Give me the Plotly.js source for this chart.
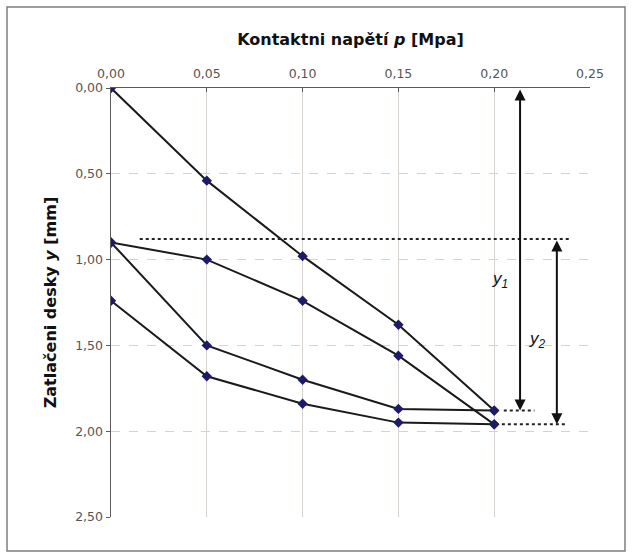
<!DOCTYPE html>
<html>
<head>
<meta charset="utf-8">
<script src="https://cdn.plot.ly/plotly-3.0.1.min.js"></script>
<style>
html,body{margin:0;padding:0;background:#fff;}
#chart{width:632px;height:558px;}
</style>
</head>
<body>
<div id="chart"></div>
<script>
// Contact stress p [MPa]
const pressure = [0.00, 0.05, 0.10, 0.15, 0.20];
// Plate settlement y [mm] for each branch of the load cycle
const loading1   = [0.00, 0.54, 0.98, 1.38, 1.88];
const unloading1 = [0.90, 1.50, 1.70, 1.87, 1.88];
const loading2   = [0.90, 1.00, 1.24, 1.56, 1.96];
const unloading2 = [1.24, 1.68, 1.84, 1.95, 1.96];
const xTicks = [0, 0.05, 0.10, 0.15, 0.20, 0.25];
const yTicks = [0, 0.5, 1.0, 1.5, 2.0, 2.5];

const markerStyle = {symbol: 'diamond', size: 8, color: '#1e1a6a'};
const lineStyle = {color: '#1a1a1a', width: 2};
const series = [loading1, unloading1, loading2, unloading2];
const traces = series.map(s => ({
  x: pressure, y: s, type: 'scatter', mode: 'lines+markers',
  line: lineStyle, marker: markerStyle, showlegend: false, hoverinfo: 'skip'
}));

const PW = 479, PH = 429, L = 111, T = 88;
const px = v => (v - L) / PW;
const py = v => (T + PH - v) / PH;

const tickFont = {family: 'DejaVu Sans, sans-serif', size: 12.5, color: '#555555'};
const titleFont = {family: 'DejaVu Sans, sans-serif', size: 16, color: '#111'};

const layout = {
  width: 632, height: 558,
  margin: {l: L, r: 632 - L - PW, t: T, b: 558 - T - PH},
  paper_bgcolor: '#ffffff', plot_bgcolor: '#ffffff',
  separators: ', ',
  font: {family: 'DejaVu Sans, sans-serif', color: '#444'},
  xaxis: {
    side: 'top', range: [0, 0.25], tickvals: xTicks, tickformat: '.2f',
    showline: true, linecolor: '#5a5a5a', linewidth: 1.5,
    showgrid: true, gridcolor: '#d8d2ce', gridwidth: 1,
    ticks: 'inside', ticklen: 4, tickcolor: '#5a5a5a', ticklabelstandoff: 4,
    zeroline: false, tickfont: tickFont,
    title: {text: '<b>Kontaktni napětí <i>p</i> [Mpa]</b>', font: titleFont, standoff: 16}
  },
  yaxis: {
    range: [2.5, 0], tickvals: yTicks, tickformat: '.2f',
    showline: true, linecolor: '#5a5a5a', linewidth: 1.5,
    showgrid: true, gridcolor: '#d8d2ce', gridwidth: 1, griddash: 'dash',
    ticks: 'outside', ticklen: 4, tickcolor: '#5a5a5a',
    zeroline: false, tickfont: tickFont,
    title: {text: '<b>Zatlačeni desky <i>y</i> [mm]</b>', font: titleFont, standoff: 14}
  },
  shapes: [
    {type: 'rect', xref: 'paper', yref: 'paper', x0: px(7), x1: px(625), y0: py(551), y1: py(7),
     line: {color: '#7f7f7f', width: 1.5}, layer: 'below'},
    {type: 'line', xref: 'x', yref: 'y', x0: 0.015, x1: 0.24, y0: 0.88, y1: 0.88,
     line: {color: '#222', width: 2, dash: 'dot'}},
    {type: 'line', xref: 'x', yref: 'y', x0: 0.205, x1: 0.221, y0: 1.88, y1: 1.88,
     line: {color: '#222', width: 2, dash: 'dot'}},
    {type: 'line', xref: 'x', yref: 'y', x0: 0.204, x1: 0.238, y0: 1.96, y1: 1.96,
     line: {color: '#222', width: 2, dash: 'dot'}}
  ],
  annotations: [
    {x: 0.2135, y: 1.88, ax: 0.2135, ay: 0.0, xref: 'x', yref: 'y', axref: 'x', ayref: 'y',
     text: '', showarrow: true, arrowside: 'end+start', arrowhead: 2, arrowsize: 1.1, arrowwidth: 2, arrowcolor: '#111'},
    {x: 0.2327, y: 1.96, ax: 0.2327, ay: 0.88, xref: 'x', yref: 'y', axref: 'x', ayref: 'y',
     text: '', showarrow: true, arrowside: 'end+start', arrowhead: 2, arrowsize: 1.1, arrowwidth: 2, arrowcolor: '#111'},
    {x: 0.203, y: 1.12, xref: 'x', yref: 'y', showarrow: false,
     text: '<i>y</i><sub><i>1</i></sub>', font: {family: 'Liberation Sans, Arial, sans-serif', size: 17, color: '#111'}},
    {x: 0.2225, y: 1.47, xref: 'x', yref: 'y', showarrow: false,
     text: '<i>y</i><sub><i>2</i></sub>', font: {family: 'Liberation Sans, Arial, sans-serif', size: 17, color: '#111'}}
  ]
};

Plotly.newPlot('chart', traces, layout, {staticPlot: true, displayModeBar: false});
</script>
</body>
</html>
